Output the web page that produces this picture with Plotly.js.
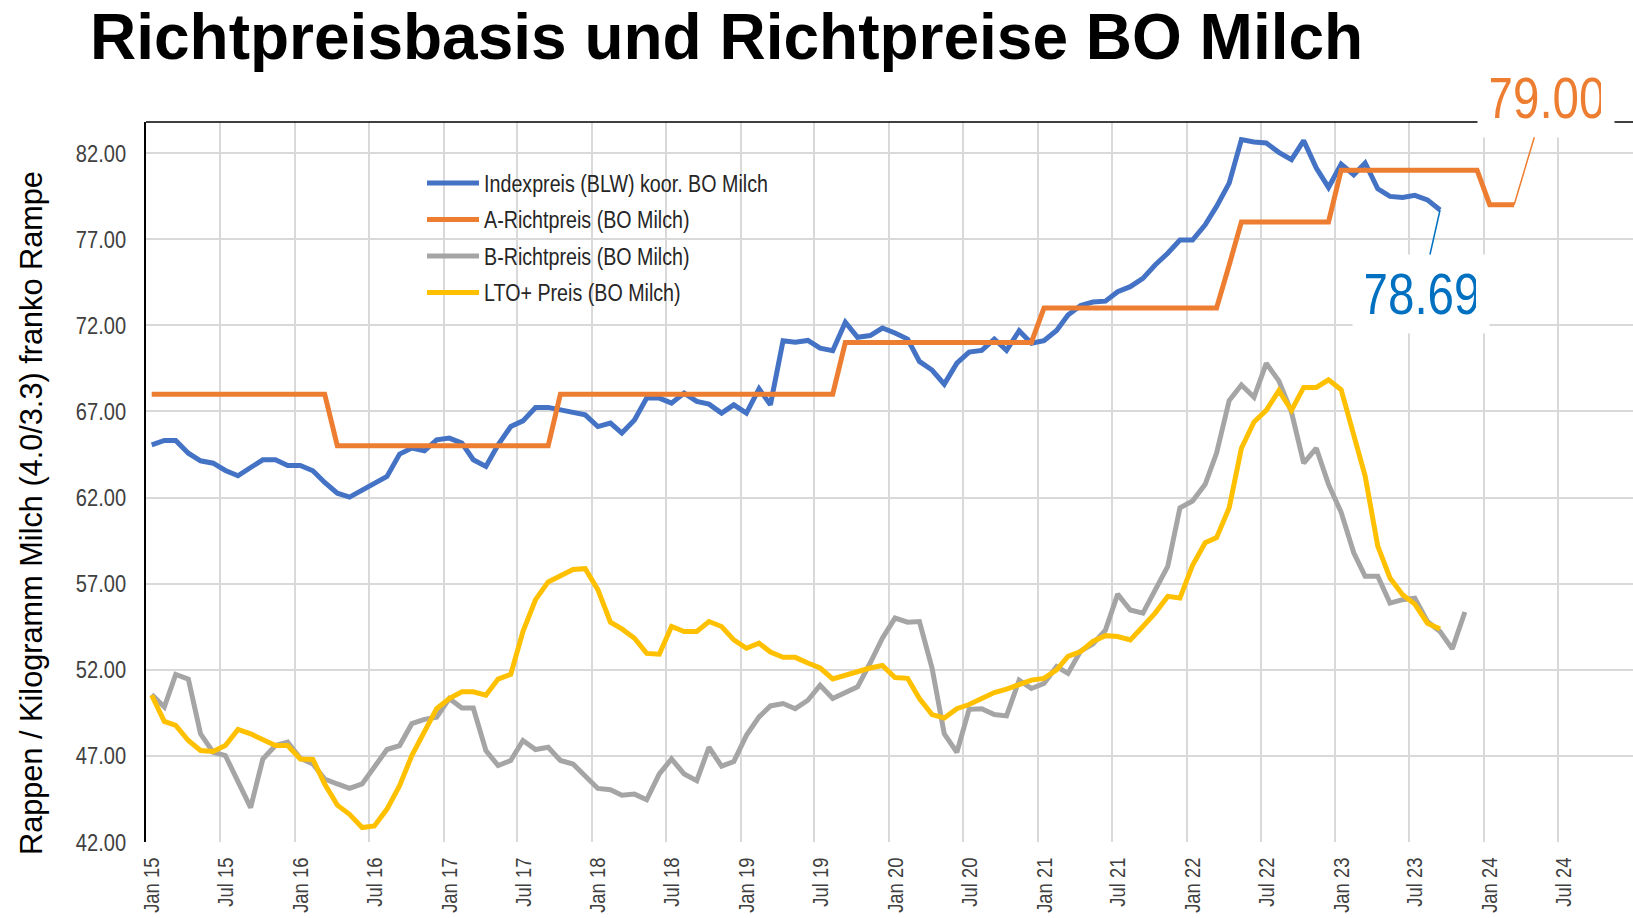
<!DOCTYPE html>
<html><head><meta charset="utf-8">
<script src="https://cdn.plot.ly/plotly-3.0.1.min.js"></script>
<style>html,body{margin:0;padding:0;background:#fff;}</style>
</head><body>
<div id="chart" style="width:1633px;height:918px"></div>
<script>
// ---------- DATA (monthly, first value = Jan 2015) ----------
const startYear = 2015;
const indexpreis = [65.06,65.31,65.31,64.57,64.13,63.99,63.57,63.26,63.74,64.19,64.19,63.86,
  63.86,63.55,62.87,62.25,62.02,62.45,62.83,63.22,64.52,64.87,64.71,65.35,
  65.45,65.16,64.19,63.80,65.06,66.12,66.45,67.23,67.23,67.10,66.90,66.80,
  66.12,66.32,65.74,66.50,67.77,67.77,67.48,68.06,67.58,67.42,66.90,67.38,
  66.90,68.31,67.38,71.10,71.02,71.12,70.67,70.52,72.18,71.30,71.40,71.84,
  71.55,71.20,69.90,69.40,68.58,69.80,70.44,70.54,71.20,70.54,71.68,70.96,
  71.10,71.70,72.60,73.15,73.35,73.40,73.95,74.24,74.72,75.50,76.18,76.95,
  76.95,77.83,78.90,80.25,82.78,82.64,82.58,82.04,81.61,82.72,81.13,80.00,
  81.36,80.74,81.42,79.92,79.48,79.42,79.54,79.28,78.69];
const aRichtpreis = [68,68,68,68,68,68,68,68,68,68,68,68,
  68,68,68,65,65,65,65,65,65,65,65,65,
  65,65,65,65,65,65,65,65,65,68,68,68,
  68,68,68,68,68,68,68,68,68,68,68,68,
  68,68,68,68,68,68,68,68,71,71,71,71,
  71,71,71,71,71,71,71,71,71,71,71,71,
  73,73,73,73,73,73,73,73,73,73,73,73,
  73,73,73,75.5,78,78,78,78,78,78,78,78,
  81,81,81,81,81,81,81,81,81,81,81,81,
  79,79,79];
const bRichtpreis = [50.56,49.84,51.73,51.46,48.28,47.21,47.02,45.56,44.00,46.82,47.60,47.80,
  46.86,46.53,45.66,45.37,45.11,45.37,46.34,47.37,47.60,48.87,49.12,49.24,
  50.33,49.78,49.78,47.31,46.44,46.73,47.89,47.37,47.50,46.73,46.53,45.85,
  45.11,45.04,44.72,44.78,44.45,45.95,46.82,45.95,45.56,47.50,46.40,46.67,
  48.19,49.26,49.90,50.04,49.74,50.23,51.10,50.33,50.68,51.01,52.39,53.83,
  55.00,54.76,54.80,52.10,48.28,47.21,49.70,49.74,49.40,49.32,51.40,50.91,
  51.20,52.18,51.79,53.09,53.50,54.30,56.39,55.47,55.29,56.65,58.00,61.40,
  61.80,62.77,64.58,67.63,68.53,67.82,69.79,68.77,66.96,64.00,64.86,62.76,
  61.14,58.79,57.43,57.43,55.87,56.07,56.16,54.80,54.22,53.21,55.35];
const ltoPreis = [50.52,49.00,48.77,47.89,47.31,47.25,47.60,48.54,48.28,47.95,47.60,47.60,
  46.82,46.79,45.37,44.14,43.61,42.84,42.93,43.91,45.27,47.02,48.48,49.74,
  50.33,50.72,50.72,50.52,51.46,51.73,54.22,56.07,57.10,57.47,57.82,57.87,
  56.65,54.76,54.37,53.83,52.95,52.90,54.51,54.22,54.22,54.80,54.51,53.73,
  53.25,53.54,53.03,52.72,52.72,52.39,52.10,51.47,51.70,51.94,52.10,52.25,
  51.55,51.50,50.33,49.40,49.20,49.74,49.98,50.33,50.68,50.87,51.14,51.40,
  51.50,52.00,52.78,53.05,53.64,53.98,53.93,53.73,54.51,55.29,56.26,56.16,
  58.07,59.37,59.67,61.40,64.86,66.39,67.06,68.20,67.06,68.39,68.39,68.83,
  68.26,65.63,63.24,59.18,57.33,56.36,55.81,54.70,54.37];
const seriesNames = ['Indexpreis (BLW) koor. BO Milch','A-Richtpreis (BO Milch)','B-Richtpreis (BO Milch)','LTO+ Preis (BO Milch)'];
const seriesColors = ['#4472C4','#ED7D31','#A5A5A5','#FFC000'];
const yTickVals = [42,47,52,57,62,67,72,77,82];
const xAxisRange = ['2015-01-01','2025-01-01'];
const chartTitle = 'Richtpreisbasis und Richtpreise BO Milch';
const yAxisTitle = 'Rappen / Kilogramm Milch (4.0/3.3) franko Rampe';

// ---------- helpers ----------
function monthDates(n){
  const out=[];
  for(let i=0;i<n;i++){
    const y=startYear+Math.floor(i/12), m=i%12+1;
    out.push(y+'-'+String(m).padStart(2,'0')+'-15');
  }
  return out;
}
const W=1633,H=918, M={l:146,r:0,t:122,b:76};
const PW=W-M.l-M.r, PH=H-M.t-M.b;
const px2x = px => (px-M.l)/PW;
const py2y = py => (H-M.b-py)/PH;

const SANS = '"Liberation Sans",Arial,sans-serif';
const NARROW_SCALE = 0.82;   // emulate Arial Narrow by horizontal compression

const allSeries=[indexpreis,aRichtpreis,bRichtpreis,ltoPreis];
const traces = allSeries.map((vals,i)=>({
  type:'scatter', mode:'lines', name:seriesNames[i],
  x: monthDates(vals.length), y: vals,
  line:{color:seriesColors[i], width:5, shape:'linear'},
  showlegend:false, hoverinfo:'x+y'
}));

// custom legend (Excel-like long line symbols)
const legRowsPx=[183,219.5,256,292.5];
const shapes=[
  {type:'rect', xref:'paper', yref:'paper', x0:px2x(410), x1:px2x(818), y0:py2y(312), y1:py2y(164),
   fillcolor:'#ffffff', line:{width:0}, layer:'between'},
  {type:'line', xref:'paper', yref:'paper', x0:0, x1:1, y0:1, y1:1, line:{color:'#000', width:1.5}, layer:'above'}
];
const annotations=[];
const narrowLeft=[], narrowCenter=[];
seriesNames.forEach((nm,i)=>{
  shapes.push({type:'line', xref:'paper', yref:'paper', x0:px2x(427), x1:px2x(479), y0:py2y(legRowsPx[i]), y1:py2y(legRowsPx[i]),
    line:{color:seriesColors[i], width:5}, layer:'above'});
  narrowLeft.push(annotations.length);
  annotations.push({xref:'paper', yref:'paper', x:px2x(483), y:py2y(legRowsPx[i]), xanchor:'left', yanchor:'middle',
    text:nm, showarrow:false, borderpad:0, font:{family:SANS, size:24, color:'#262626'}});
});

// y axis title
annotations.push({xref:'paper', yref:'paper', x:px2x(31), y:py2y(513), xanchor:'center', yanchor:'middle',
  text:yAxisTitle, textangle:-90, showarrow:false, font:{family:SANS, size:30.7, color:'#000'}});

// value call-outs
const bDates=monthDates(indexpreis.length), aDates=monthDates(aRichtpreis.length);
narrowCenter.push(annotations.length);
annotations.push({x:bDates[bDates.length-1], y:indexpreis[indexpreis.length-1], xref:'x', yref:'y',
  text:indexpreis[indexpreis.length-1].toFixed(2), showarrow:true, arrowhead:0, arrowwidth:1.5, arrowcolor:'#0070C0',
  ax:-19, ay:84, bgcolor:'#ffffff', width:134, height:76, font:{family:SANS, size:58, color:'#0070C0'}});
narrowCenter.push(annotations.length);
annotations.push({x:aDates[aDates.length-1], y:aRichtpreis[aRichtpreis.length-1], xref:'x', yref:'y',
  text:aRichtpreis[aRichtpreis.length-1].toFixed(2), showarrow:true, arrowhead:0, arrowwidth:1.5, arrowcolor:'#ED7D31',
  ax:32, ay:-107, bgcolor:'#ffffff', width:134, height:76, font:{family:SANS, size:58, color:'#ED7D31'}});

const layout={
  width:W, height:H, margin:M, paper_bgcolor:'#fff', plot_bgcolor:'#fff',
  title:{text:'<b>'+chartTitle+'</b>', xref:'container', yref:'container', x:90/W, xanchor:'left', y:1-37/H, yanchor:'middle',
    font:{family:SANS, size:64, color:'#000'}},
  xaxis:{type:'date', range:xAxisRange, tick0:'2015-01-01', dtick:'M6', tickformat:'%b %y', tickangle:-90,
    showgrid:true, gridcolor:'#d9d9d9', gridwidth:2, showline:false, zeroline:false, ticks:'',
    ticklabelstandoff:10, ticklabelshift:6,
    tickfont:{family:SANS, size:22.5, color:'#404040'}},
  yaxis:{range:[42,83.8], tickvals:yTickVals, tickformat:'.2f', showgrid:true, gridcolor:'#d9d9d9', gridwidth:2,
    showline:true, linecolor:'#000', linewidth:2, zeroline:false, ticks:'', ticklabelstandoff:13,
    tickfont:{family:SANS, size:24.5, color:'#404040'}},
  shapes:shapes, annotations:annotations, showlegend:false
};

// compress a text element horizontally (in its own writing direction) about a pivot
function narrowText(el, sx, pivot){
  let x=parseFloat(el.getAttribute('x')), y=parseFloat(el.getAttribute('y'));
  if(isNaN(x)||isNaN(y)){
    const ts=el.querySelector('tspan');
    x = ts? parseFloat(ts.getAttribute('x'))||0 : 0;
    y = ts? parseFloat(ts.getAttribute('y'))||0 : 0;
  }
  if(pivot==='left'){ try{ x = el.getBBox().x; }catch(e){} }
  const tr=el.getAttribute('transform')||'';
  el.setAttribute('transform', (tr+' translate('+x+','+y+') scale('+sx+',1) translate('+(-x)+','+(-y)+')').trim());
}

Plotly.newPlot('chart', traces, layout, {staticPlot:true, displayModeBar:false}).then(gd=>{
  gd.querySelectorAll('.xtick text, .ytick text').forEach(t=>narrowText(t, NARROW_SCALE));
  narrowCenter.forEach(i=>{
    const t=gd.querySelector('.annotation[data-index="'+i+'"] text.annotation-text');
    if(t) narrowText(t, NARROW_SCALE, 'center');
  });
  narrowLeft.forEach(i=>{
    const t=gd.querySelector('.annotation[data-index="'+i+'"] text.annotation-text');
    if(t) narrowText(t, NARROW_SCALE, 'left');
  });
});
</script>
</body></html>
